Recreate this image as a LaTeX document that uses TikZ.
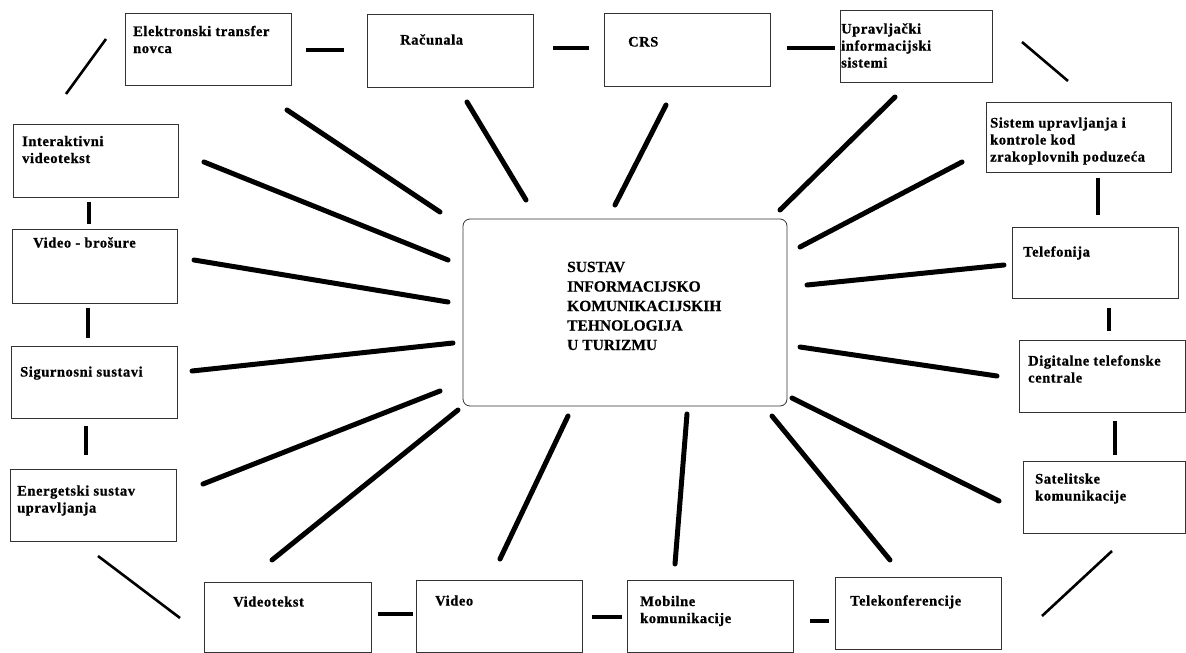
\documentclass[tikz,border=0pt]{standalone}
\usepackage{fontspec}
\setmainfont{Liberation Serif}[BoldFeatures={FakeBold=0.4}]
\newfontfamily\lblfam{Liberation Serif}[LetterSpace=4, BoldFeatures={FakeBold=0.8}]
\usetikzlibrary{fit}
\tikzset{
  box/.style={draw=black!80, line width=0.8pt, inner sep=0pt, fill=none},
  cbox/.style={box, rounded corners=7pt},
  lbl/.style={inner sep=0pt, align=left, font=\lblfam\bfseries\fontsize{14.5}{17}\selectfont},
  ctext/.style={inner sep=0pt, align=left, font=\bfseries\fontsize{15.5}{19.5}\selectfont},
  spoke/.style={line width=5pt, line cap=round},
  link/.style={line width=3.6pt},
  diag/.style={line width=2.6pt},
}
\newcommand{\mybox}[5]{\node[box, fit={(#2,#3)(#4,#5)}] (#1) {};}
\begin{document}
\begin{tikzpicture}[x=1pt, y=-1pt]
\useasboundingbox (0,0) rectangle (1186,653);
% boxes
\mybox{elek}{125}{13}{291}{85}
\mybox{racun}{367}{14}{533}{87}
\mybox{crs}{604}{13}{770}{86}
\mybox{uprav}{840}{10}{992}{82}
\mybox{sistem}{986}{102}{1171}{172}
\mybox{inter}{13}{124}{178}{197}
\mybox{vbros}{12}{229}{177}{303}
\mybox{telef}{1012}{227}{1178}{298}
\mybox{sigur}{11}{346}{177}{418}
\mybox{digit}{1019}{340}{1185}{412}
\mybox{energ}{10}{469}{176}{541}
\mybox{satel}{1023}{461}{1185}{533}
\mybox{vtekst}{204}{582}{371}{652}
\mybox{video}{416}{580}{582}{652}
\mybox{mobil}{627}{580}{793}{652}
\mybox{telek}{835}{577}{1001}{649}
\node[cbox, fit={(463,219)(787,406)}] (center) {};
% labels (anchor base = baseline of the last line)
\node[lbl, anchor=base west] (elekT) at (133,53) {Elektronski transfer\\novca};
\node[lbl, anchor=base west] (racunT) at (400,44.5) {Računala};
\node[lbl, anchor=base west] (crsT) at (628,46.5) {CRS};
\node[lbl, anchor=base west] (upravT) at (841,67.5) {Upravljački\\informacijski\\sistemi};
\node[lbl, anchor=base west] (sistemT) at (990,161.5) {Sistem upravljanja i\\kontrole kod\\zrakoplovnih poduzeća};
\node[lbl, anchor=base west] (interT) at (22,163) {Interaktivni\\videotekst};
\node[lbl, anchor=base west] (vbrosT) at (33,247.5) {Video - brošure};
\node[lbl, anchor=base west] (telefT) at (1023,256.5) {Telefonija};
\node[lbl, anchor=base west] (sigurT) at (20,376.5) {Sigurnosni sustavi};
\node[lbl, anchor=base west] (digitT) at (1028,382.5) {Digitalne telefonske\\centrale};
\node[lbl, anchor=base west] (satelT) at (1035,500.5) {Satelitske\\komunikacije};
\node[lbl, anchor=base west] (energT) at (17,512.5) {Energetski sustav\\upravljanja};
\node[lbl, anchor=base west] (vtekstT) at (233,606.5) {Videotekst};
\node[lbl, anchor=base west] (videoT) at (435,605.5) {Video};
\node[lbl, anchor=base west] (mobilT) at (640,623) {Mobilne\\komunikacije};
\node[lbl, anchor=base west] (telekT) at (850,605.5) {Telekonferencije};
\node[ctext, anchor=base west] (centerT) at (567,350) {SUSTAV\\INFORMACIJSKO\\KOMUNIKACIJSKIH\\TEHNOLOGIJA\\U TURIZMU};
% spokes
\foreach \n/\ax/\ay/\bx/\by in {
  s1/287/110/440/212, s2/467/102/526/200, s3/666/105/615/205, s4/895/97/780/210,
  s5/962/162/800/247, s6/1004/265/807/285, s7/997/376/800/347, s8/999/501/792/398,
  s9/890/560/772/416, s10/675/564/687/414, s11/500/559/568/416, s12/272/560/458/410,
  s13/203/484/440/391, s14/192/371/453/343, s15/194/260/448/302, s16/204/162/448/260}
{
  \coordinate (\n a) at (\ax,\ay);
  \coordinate (\n b) at (\bx,\by);
  \draw[spoke] (\n a) -- (\n b);
}
% ring links
\foreach \n/\ax/\ay/\bx/\by in {
  r1/306/50/344/50, r2/553/48/589/48, r3/787/48/835/48,
  r4/1098/178/1098/215, r5/1109/308/1109/331, r6/1115/421/1115/455,
  r7/810/621/829/621, r8/592/617/622/617, r9/378/614/413/614,
  r10/86/426/86/455, r11/88/308/88/338, r12/89/202/89/224}
{
  \coordinate (\n a) at (\ax,\ay);
  \coordinate (\n b) at (\bx,\by);
  \draw[link] (\n a) -- (\n b);
}
\foreach \n/\ax/\ay/\bx/\by in {
  d1/66/94/106/39, d2/1022/42/1068/81, d3/1112/551/1042/616, d4/98/556/180/618}
{
  \coordinate (\n a) at (\ax,\ay);
  \coordinate (\n b) at (\bx,\by);
  \draw[diag] (\n a) -- (\n b);
}
\end{tikzpicture}
\end{document}
